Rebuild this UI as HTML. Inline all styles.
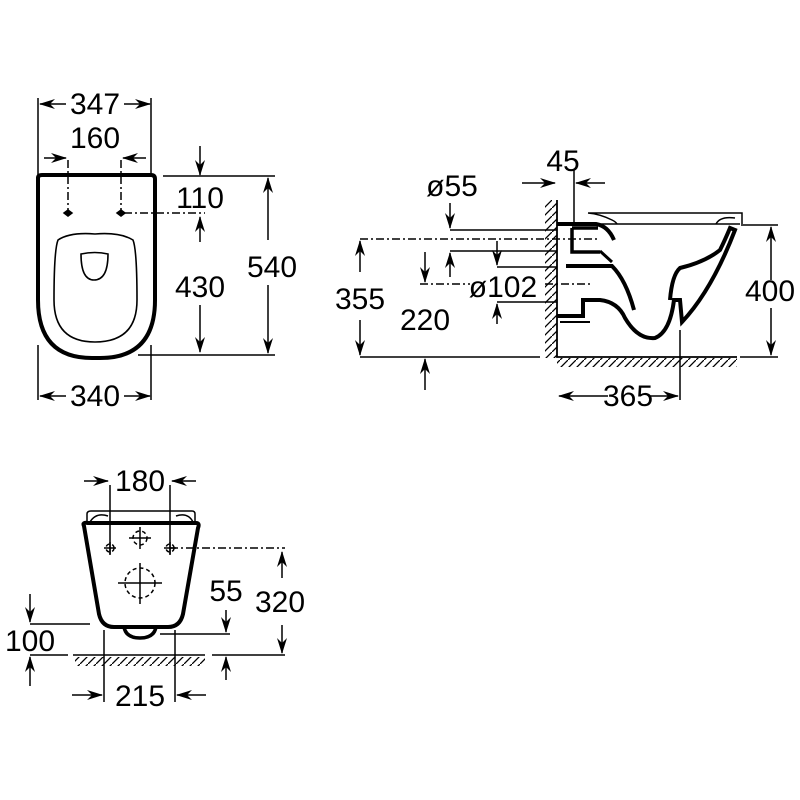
<!DOCTYPE html>
<html><head><meta charset="utf-8"><style>
html,body{margin:0;padding:0;background:#fff}
svg{display:block}
text{font-family:"Liberation Sans",sans-serif;font-size:30px;fill:#000;text-anchor:middle}
</style></head><body>
<svg width="800" height="800" viewBox="0 0 800 800" xmlns="http://www.w3.org/2000/svg">
<defs>
<marker id="a" markerWidth="16" markerHeight="10" refX="15" refY="5" orient="auto" markerUnits="userSpaceOnUse">
<path d="M0,0 L16,5 L0,10 L5,5 Z" fill="#000"/></marker>
<pattern id="h" width="8" height="8" patternUnits="userSpaceOnUse">
<path d="M0,8 L8,0" stroke="#000" stroke-width="1.3"/></pattern>
</defs>
<g stroke="#000" stroke-width="1.5" fill="none">
<!-- TOP VIEW -->
<path d="M38,178 Q38,175 42,175 H151 Q155,175 155,179 V300 Q155,358 100,358 H92 Q38,358 38,300 Z" stroke-width="4"/>
<path d="M58,240 Q70,232 95,234 Q120,232 133,240 Q137,250 137,300 Q137,342 95,342 Q54,342 54,300 Q54,250 58,240 Z" stroke-width="1.6"/>
<path d="M81,254 Q95,251 108,254 Q108,280 94,280 Q81,280 81,254 Z" stroke-width="1.6"/>
<path d="M38,98 V176 M151,98 V176 M38,345 V400 M151,345 V400"/>
<path d="M66,104 H40" marker-end="url(#a)"/><path d="M124,104 H150" marker-end="url(#a)"/>
<path d="M44,158 H66" marker-end="url(#a)"/><path d="M146,158 H123" marker-end="url(#a)"/>
<path d="M68,160 V210 M121,160 V210 M124,213 H205" stroke-dasharray="8,3,2,3"/>
<path d="M64,213 L68,210 L72,213 L68,216 Z M117,213 L121,210 L125,213 L121,216 Z" fill="#000"/>
<path d="M163,176 H275 M138,355 H275"/>
<path d="M200,146 V175" marker-end="url(#a)"/>
<path d="M200,242 V217" marker-end="url(#a)"/><path d="M200,305 V352" marker-end="url(#a)"/>
<path d="M268,240 V178" marker-end="url(#a)"/><path d="M268,285 V353" marker-end="url(#a)"/>
<path d="M66,396 H40" marker-end="url(#a)"/><path d="M124,396 H150" marker-end="url(#a)"/>
<!-- SIDE VIEW -->
<rect x="545" y="200" width="12" height="158" fill="url(#h)" stroke="none"/>
<rect x="557" y="358" width="180" height="9" fill="url(#h)" stroke="none"/>
<path d="M557,200 V357 H737" stroke-width="1.8"/>
<path d="M574,170 V224"/>
<path d="M522,183 H555" marker-end="url(#a)"/><path d="M605,183 H576" marker-end="url(#a)"/>
<path d="M557,224 H740" stroke-width="1.6"/>
<path d="M588,213 H742 V224 M588,213 Q600,214 612,220 Q616,222 617,224 M716,224 Q720,216 735,218"/>
<path d="M557,224 H596 Q608,226 614,240" stroke-width="4"/>
<path d="M572,228 V252 H600 M572,228 H598" stroke-width="3.5"/>
<path d="M600,251 L612,262" stroke-width="3"/>
<path d="M566,266 H612 Q626,280 634,310" stroke-width="4"/>
<path d="M557,316 H583 V300 H600 Q618,302 625,318 Q638,340 655,338 Q670,332 674,300 L680,300 L682,322 Q712,290 735,230 L730,228 Q725,240 720,250 Q705,262 680,268 Q672,275 670,300" stroke-width="4"/>
<path d="M560,322 H590" stroke-width="2"/>
<path d="M680,330 V400 M741,225 H778 M740,357 H778"/>
<path d="M771,280 V227" marker-end="url(#a)"/><path d="M771,308 V355" marker-end="url(#a)"/>
<path d="M608,396 H559" marker-end="url(#a)"/><path d="M650,396 H678" marker-end="url(#a)"/>
<path d="M450,230 H557 M450,251 H557 M497,267 H557 M497,302 H557 M360,357 H540"/>
<path d="M360,239 H600 M420,284 H470 M545,284 H590" stroke-dasharray="8,3,2,3"/>
<path d="M450,203 V228" marker-end="url(#a)"/><path d="M450,277 V253" marker-end="url(#a)"/>
<path d="M497,241 V265" marker-end="url(#a)"/><path d="M497,324 V304" marker-end="url(#a)"/>
<path d="M425,252 V282" marker-end="url(#a)"/><path d="M425,390 V359" marker-end="url(#a)"/>
<path d="M360,272 V241" marker-end="url(#a)"/><path d="M360,320 V355" marker-end="url(#a)"/>
<!-- FRONT VIEW -->
<path d="M87,522 V514 Q87,511 91,511 H192 Q195,511 195,514 V522"/>
<path d="M90,522 Q96,512 108,516 M193,522 Q188,512 176,516"/>
<path d="M84,526 Q82,522 88,523 H196 Q200,523 198,528 L183,614 Q180,627 168,627 H114 Q102,627 99,614 Z" stroke-width="4"/>
<path d="M124,627 Q126,638 140,638 Q154,638 156,627" stroke-width="3.5"/>
<path d="M110,485 V555 M170,485 V555"/>
<path d="M170,548 H285" stroke-dasharray="8,3,2,3"/>
<g stroke-dasharray="4,3"><circle cx="140" cy="538" r="7"/><circle cx="140" cy="583" r="15"/><circle cx="110" cy="548" r="4"/><circle cx="170" cy="548" r="4"/></g>
<path d="M140,527 V549 M129,538 H151 M140,563 V604 M118,583 H162 M104,548 H116 M110,542 V554 M164,548 H176 M170,542 V554"/>
<path d="M84,481 H108" marker-end="url(#a)"/><path d="M196,481 H172" marker-end="url(#a)"/>
<rect x="75" y="657" width="130" height="9" fill="url(#h)" stroke="none"/>
<path d="M73,655 H205 M212,655 H285 M30,624 H90 M30,655 H68 M160,634 H230"/>
<path d="M104,630 V702 M175,630 V702"/>
<path d="M282,578 V552" marker-end="url(#a)"/><path d="M282,625 V653" marker-end="url(#a)"/>
<path d="M226,610 V632" marker-end="url(#a)"/><path d="M226,680 V657" marker-end="url(#a)"/>
<path d="M30,594 V622" marker-end="url(#a)"/><path d="M30,686 V657" marker-end="url(#a)"/>
<path d="M72,695 H102" marker-end="url(#a)"/><path d="M206,695 H177" marker-end="url(#a)"/>
</g>
<text x="95" y="114">347</text>
<text x="95" y="148">160</text>
<text x="200" y="208">110</text>
<text x="200" y="297">430</text>
<text x="272" y="277">540</text>
<text x="95" y="406">340</text>
<text x="563" y="171">45</text>
<text x="452" y="196">ø55</text>
<text x="503" y="297">ø102</text>
<text x="360" y="309">355</text>
<text x="425" y="330">220</text>
<text x="770" y="301">400</text>
<text x="628" y="406">365</text>
<text x="140" y="491">180</text>
<text x="280" y="612">320</text>
<text x="226" y="601">55</text>
<text x="30" y="651">100</text>
<text x="140" y="706">215</text>
</svg>
</body></html>
